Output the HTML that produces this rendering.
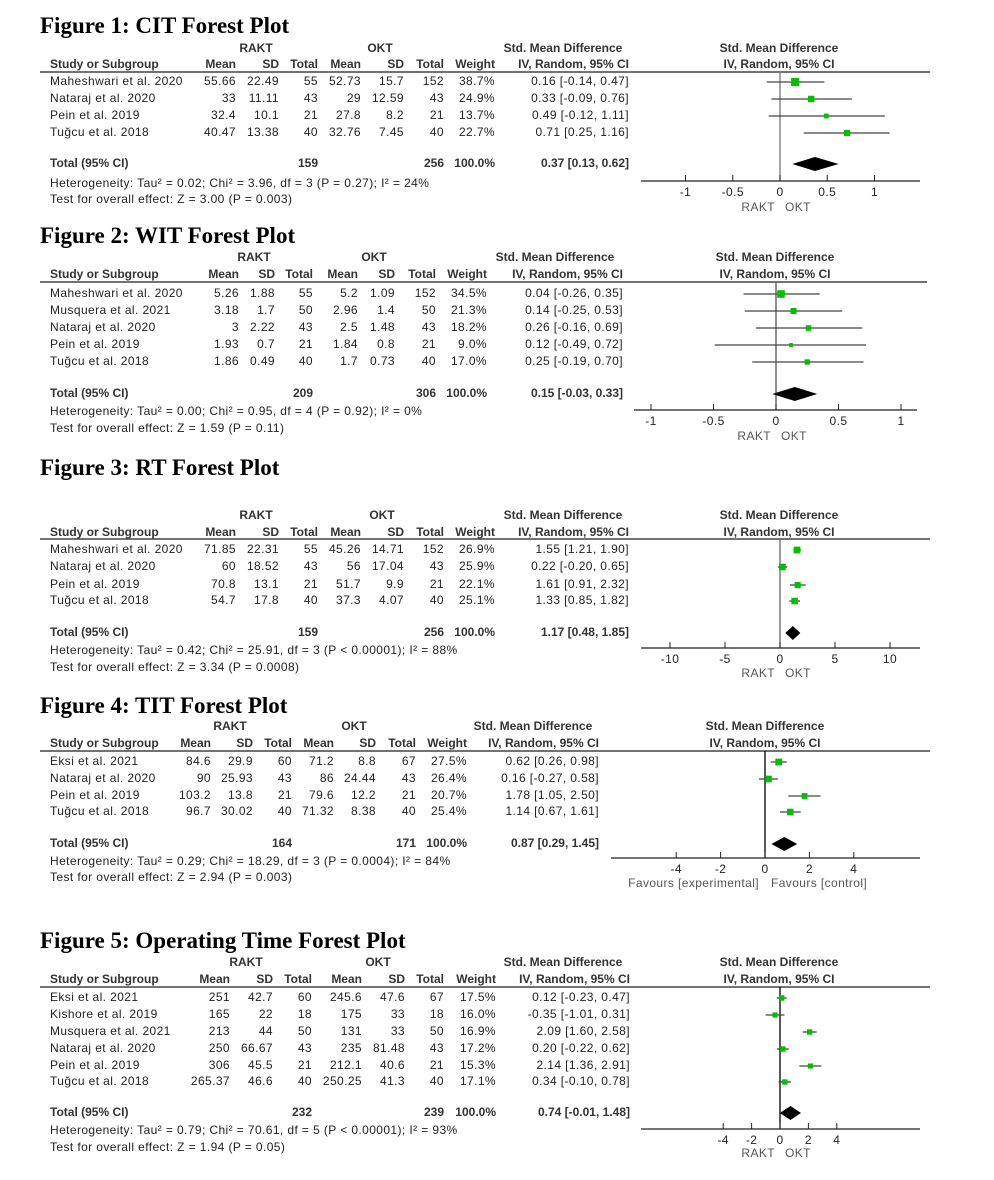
<!DOCTYPE html>
<html><head><meta charset="utf-8">
<style>
html,body{margin:0;padding:0;background:#fff;}
svg{display:block;}
.t{font-family:"Liberation Serif",serif;font-weight:bold;font-size:23px;fill:#000;}
.s{font-family:"Liberation Sans",Arial,sans-serif;font-size:12px;fill:#222;letter-spacing:0.4px;}
.b{font-weight:bold;fill:#333;letter-spacing:0;}
.g{fill:#555;}
</style></head>
<body>
<svg id="c" width="994" height="1180" xmlns="http://www.w3.org/2000/svg"></svg>
<script>
const svg=document.getElementById('c');
const NS='http://www.w3.org/2000/svg';
function el(tag,attrs,txt){const e=document.createElementNS(NS,tag);for(const k in attrs)e.setAttribute(k,attrs[k]);if(txt!==undefined)e.textContent=txt;svg.appendChild(e);return e;}
function tx(x,y,s,cls,anchor){return el('text',{x:x,y:y+4,'class':cls||'s','text-anchor':anchor||'start'},s);}
const figs=[
{title:"Figure 1: CIT Forest Plot",ty:25,gh:48,hr:64,line:72,rows:[81,98,115,132],tot:163,het:183,test:199,
 cols:[236,279,318,361,404,444,495,629],rc:256,oc:380,lc:563,pc:779,lineEnd:930,
 zero:780,scale:94.5,ax:181,axL:641,axR:920,ticks:[-1,-0.5,0,0.5,1],fav:["RAKT","OKT"],favY:207,vcol:"#777",
 data:[["Maheshwari et al. 2020","55.66","22.49","55","52.73","15.7","152","38.7%","0.16 [-0.14, 0.47]",0.16,-0.14,0.47,38.7],
 ["Nataraj et al. 2020","33","11.11","43","29","12.59","43","24.9%","0.33 [-0.09, 0.76]",0.33,-0.09,0.76,24.9],
 ["Pein et al. 2019","32.4","10.1","21","27.8","8.2","21","13.7%","0.49 [-0.12, 1.11]",0.49,-0.12,1.11,13.7],
 ["Tuğcu et al. 2018","40.47","13.38","40","32.76","7.45","40","22.7%","0.71 [0.25, 1.16]",0.71,0.25,1.16,22.7]],
 total:["159","256","100.0%","0.37 [0.13, 0.62]",0.37,0.13,0.62],
 hetT:"Heterogeneity: Tau² = 0.02; Chi² = 3.96, df = 3 (P = 0.27); I² = 24%",testT:"Test for overall effect: Z = 3.00 (P = 0.003)"},
{title:"Figure 2: WIT Forest Plot",ty:235,gh:257,hr:274,line:282,rows:[293,310,327,344,361],tot:393,het:411,test:428,
 cols:[239,275,313,358,395,436,487,623],rc:254,oc:374,lc:555,pc:775,lineEnd:927,
 zero:776,scale:125,ax:410,axL:634,axR:917,ticks:[-1,-0.5,0,0.5,1],fav:["RAKT","OKT"],favY:436,vcol:"#555",
 data:[["Maheshwari et al. 2020","5.26","1.88","55","5.2","1.09","152","34.5%","0.04 [-0.26, 0.35]",0.04,-0.26,0.35,34.5],
 ["Musquera et al. 2021","3.18","1.7","50","2.96","1.4","50","21.3%","0.14 [-0.25, 0.53]",0.14,-0.25,0.53,21.3],
 ["Nataraj et al. 2020","3","2.22","43","2.5","1.48","43","18.2%","0.26 [-0.16, 0.69]",0.26,-0.16,0.69,18.2],
 ["Pein et al. 2019","1.93","0.7","21","1.84","0.8","21","9.0%","0.12 [-0.49, 0.72]",0.12,-0.49,0.72,9.0],
 ["Tuğcu et al. 2018","1.86","0.49","40","1.7","0.73","40","17.0%","0.25 [-0.19, 0.70]",0.25,-0.19,0.70,17.0]],
 total:["209","306","100.0%","0.15 [-0.03, 0.33]",0.15,-0.03,0.33],
 hetT:"Heterogeneity: Tau² = 0.00; Chi² = 0.95, df = 4 (P = 0.92); I² = 0%",testT:"Test for overall effect: Z = 1.59 (P = 0.11)"},
{title:"Figure 3: RT Forest Plot",ty:467,gh:515,hr:532,line:539,rows:[549,566,584,600],tot:632,het:650,test:667,
 cols:[236,279,318,361,404,444,495,629],rc:256,oc:382,lc:563,pc:779,lineEnd:930,
 zero:780,scale:11,ax:648,axL:641,axR:920,ticks:[-10,-5,0,5,10],fav:["RAKT","OKT"],favY:673,vcol:"#666",
 data:[["Maheshwari et al. 2020","71.85","22.31","55","45.26","14.71","152","26.9%","1.55 [1.21, 1.90]",1.55,1.21,1.90,26.9],
 ["Nataraj et al. 2020","60","18.52","43","56","17.04","43","25.9%","0.22 [-0.20, 0.65]",0.22,-0.20,0.65,25.9],
 ["Pein et al. 2019","70.8","13.1","21","51.7","9.9","21","22.1%","1.61 [0.91, 2.32]",1.61,0.91,2.32,22.1],
 ["Tuğcu et al. 2018","54.7","17.8","40","37.3","4.07","40","25.1%","1.33 [0.85, 1.82]",1.33,0.85,1.82,25.1]],
 total:["159","256","100.0%","1.17 [0.48, 1.85]",1.17,0.48,1.85],
 hetT:"Heterogeneity: Tau² = 0.42; Chi² = 25.91, df = 3 (P < 0.00001); I² = 88%",testT:"Test for overall effect: Z = 3.34 (P = 0.0008)"},
{title:"Figure 4: TIT Forest Plot",ty:705,gh:726,hr:743,line:751,rows:[761,778,795,811],tot:843,het:861,test:877,
 cols:[211,253,292,334,376,416,467,599],rc:230,oc:354,lc:533,pc:765,lineEnd:930,
 zero:765,scale:22.2,ax:858,axL:611,axR:920,ticks:[-4,-2,0,2,4],fav:["Favours [experimental]","Favours [control]"],favY:883,vcol:"#000",favGap:6,
 data:[["Eksi et al. 2021","84.6","29.9","60","71.2","8.8","67","27.5%","0.62 [0.26, 0.98]",0.62,0.26,0.98,27.5],
 ["Nataraj et al. 2020","90","25.93","43","86","24.44","43","26.4%","0.16 [-0.27, 0.58]",0.16,-0.27,0.58,26.4],
 ["Pein et al. 2019","103.2","13.8","21","79.6","12.2","21","20.7%","1.78 [1.05, 2.50]",1.78,1.05,2.50,20.7],
 ["Tuğcu et al. 2018","96.7","30.02","40","71.32","8.38","40","25.4%","1.14 [0.67, 1.61]",1.14,0.67,1.61,25.4]],
 total:["164","171","100.0%","0.87 [0.29, 1.45]",0.87,0.29,1.45],
 hetT:"Heterogeneity: Tau² = 0.29; Chi² = 18.29, df = 3 (P = 0.0004); I² = 84%",testT:"Test for overall effect: Z = 2.94 (P = 0.003)"},
{title:"Figure 5: Operating Time Forest Plot",ty:940,gh:962,hr:979,line:987,rows:[997,1014,1031,1048,1065,1081],tot:1112,het:1130,test:1147,
 cols:[230,273,312,362,405,444,496,630],rc:246,oc:378,lc:563,pc:779,lineEnd:930,
 zero:780,scale:14.2,ax:1129,axL:641,axR:920,ticks:[-4,-2,0,2,4],fav:["RAKT","OKT"],favY:1153,vcol:"#000",
 data:[["Eksi et al. 2021","251","42.7","60","245.6","47.6","67","17.5%","0.12 [-0.23, 0.47]",0.12,-0.23,0.47,17.5],
 ["Kishore et al. 2019","165","22","18","175","33","18","16.0%","-0.35 [-1.01, 0.31]",-0.35,-1.01,0.31,16.0],
 ["Musquera et al. 2021","213","44","50","131","33","50","16.9%","2.09 [1.60, 2.58]",2.09,1.60,2.58,16.9],
 ["Nataraj et al. 2020","250","66.67","43","235","81.48","43","17.2%","0.20 [-0.22, 0.62]",0.20,-0.22,0.62,17.2],
 ["Pein et al. 2019","306","45.5","21","212.1","40.6","21","15.3%","2.14 [1.36, 2.91]",2.14,1.36,2.91,15.3],
 ["Tuğcu et al. 2018","265.37","46.6","40","250.25","41.3","40","17.1%","0.34 [-0.10, 0.78]",0.34,-0.10,0.78,17.1]],
 total:["232","239","100.0%","0.74 [-0.01, 1.48]",0.74,-0.01,1.48],
 hetT:"Heterogeneity: Tau² = 0.79; Chi² = 70.61, df = 5 (P < 0.00001); I² = 93%",testT:"Test for overall effect: Z = 1.94 (P = 0.05)"}
];
for(const f of figs){
 el('text',{x:40,y:f.ty+8,'class':'t'},f.title);
 const c=f.cols;
 tx(f.rc,f.gh,"RAKT","s b","middle");tx(f.oc,f.gh,"OKT","s b","middle");
 tx(f.lc,f.gh,"Std. Mean Difference","s b","middle");tx(f.pc,f.gh,"Std. Mean Difference","s b","middle");
 tx(50,f.hr,"Study or Subgroup","s b");
 ["Mean","SD","Total","Mean","SD","Total","Weight","IV, Random, 95% CI"].forEach((h,i)=>tx(c[i],f.hr,h,"s b","end"));
 tx(f.pc,f.hr,"IV, Random, 95% CI","s b","middle");
 el('line',{x1:40,y1:f.line,x2:f.lineEnd,y2:f.line,stroke:'#444','stroke-width':1.5});
 const X=v=>f.zero+v*f.scale;
 el('line',{x1:f.zero,y1:f.line,x2:f.zero,y2:f.ax,stroke:f.vcol,'stroke-width':1.3});
 f.data.forEach((d,i)=>{const y=f.rows[i];
  tx(50,y,d[0]);
  for(let k=1;k<=8;k++)tx(c[k-1],y,d[k],"s","end");
  el('line',{x1:X(d[10]),y1:y+1,x2:Math.min(X(d[11]),f.lineEnd),y2:y+1,stroke:'#444','stroke-width':1.3});
  const s=Math.sqrt(d[12])*1.3;
  el('rect',{x:X(d[9])-s/2,y:y+1-s/2,width:s,height:s,fill:'#00c000'});
 });
 tx(50,f.tot,"Total (95% CI)","s b");
 tx(c[2],f.tot,f.total[0],"s b","end");tx(c[5],f.tot,f.total[1],"s b","end");
 tx(c[6],f.tot,f.total[2],"s b","end");tx(c[7],f.tot,f.total[3],"s b","end");
 const ty=f.tot+1,h=7;
 el('polygon',{points:`${X(f.total[5])},${ty} ${X(f.total[4])},${ty-h} ${X(f.total[6])},${ty} ${X(f.total[4])},${ty+h}`,fill:'#000'});
 tx(50,f.het,f.hetT);tx(50,f.test,f.testT);
 el('line',{x1:f.axL,y1:f.ax,x2:f.axR,y2:f.ax,stroke:'#222','stroke-width':1.3});
 for(const t of f.ticks){el('line',{x1:X(t),y1:f.ax-6,x2:X(t),y2:f.ax,stroke:'#222','stroke-width':1});
  tx(X(t),f.ax+11,String(t),"s","middle");}
 const gap=f.favGap||5;
 tx(f.zero-gap,f.favY,f.fav[0],"s g","end");tx(f.zero+gap,f.favY,f.fav[1],"s g","start");
}
</script>
</body></html>
